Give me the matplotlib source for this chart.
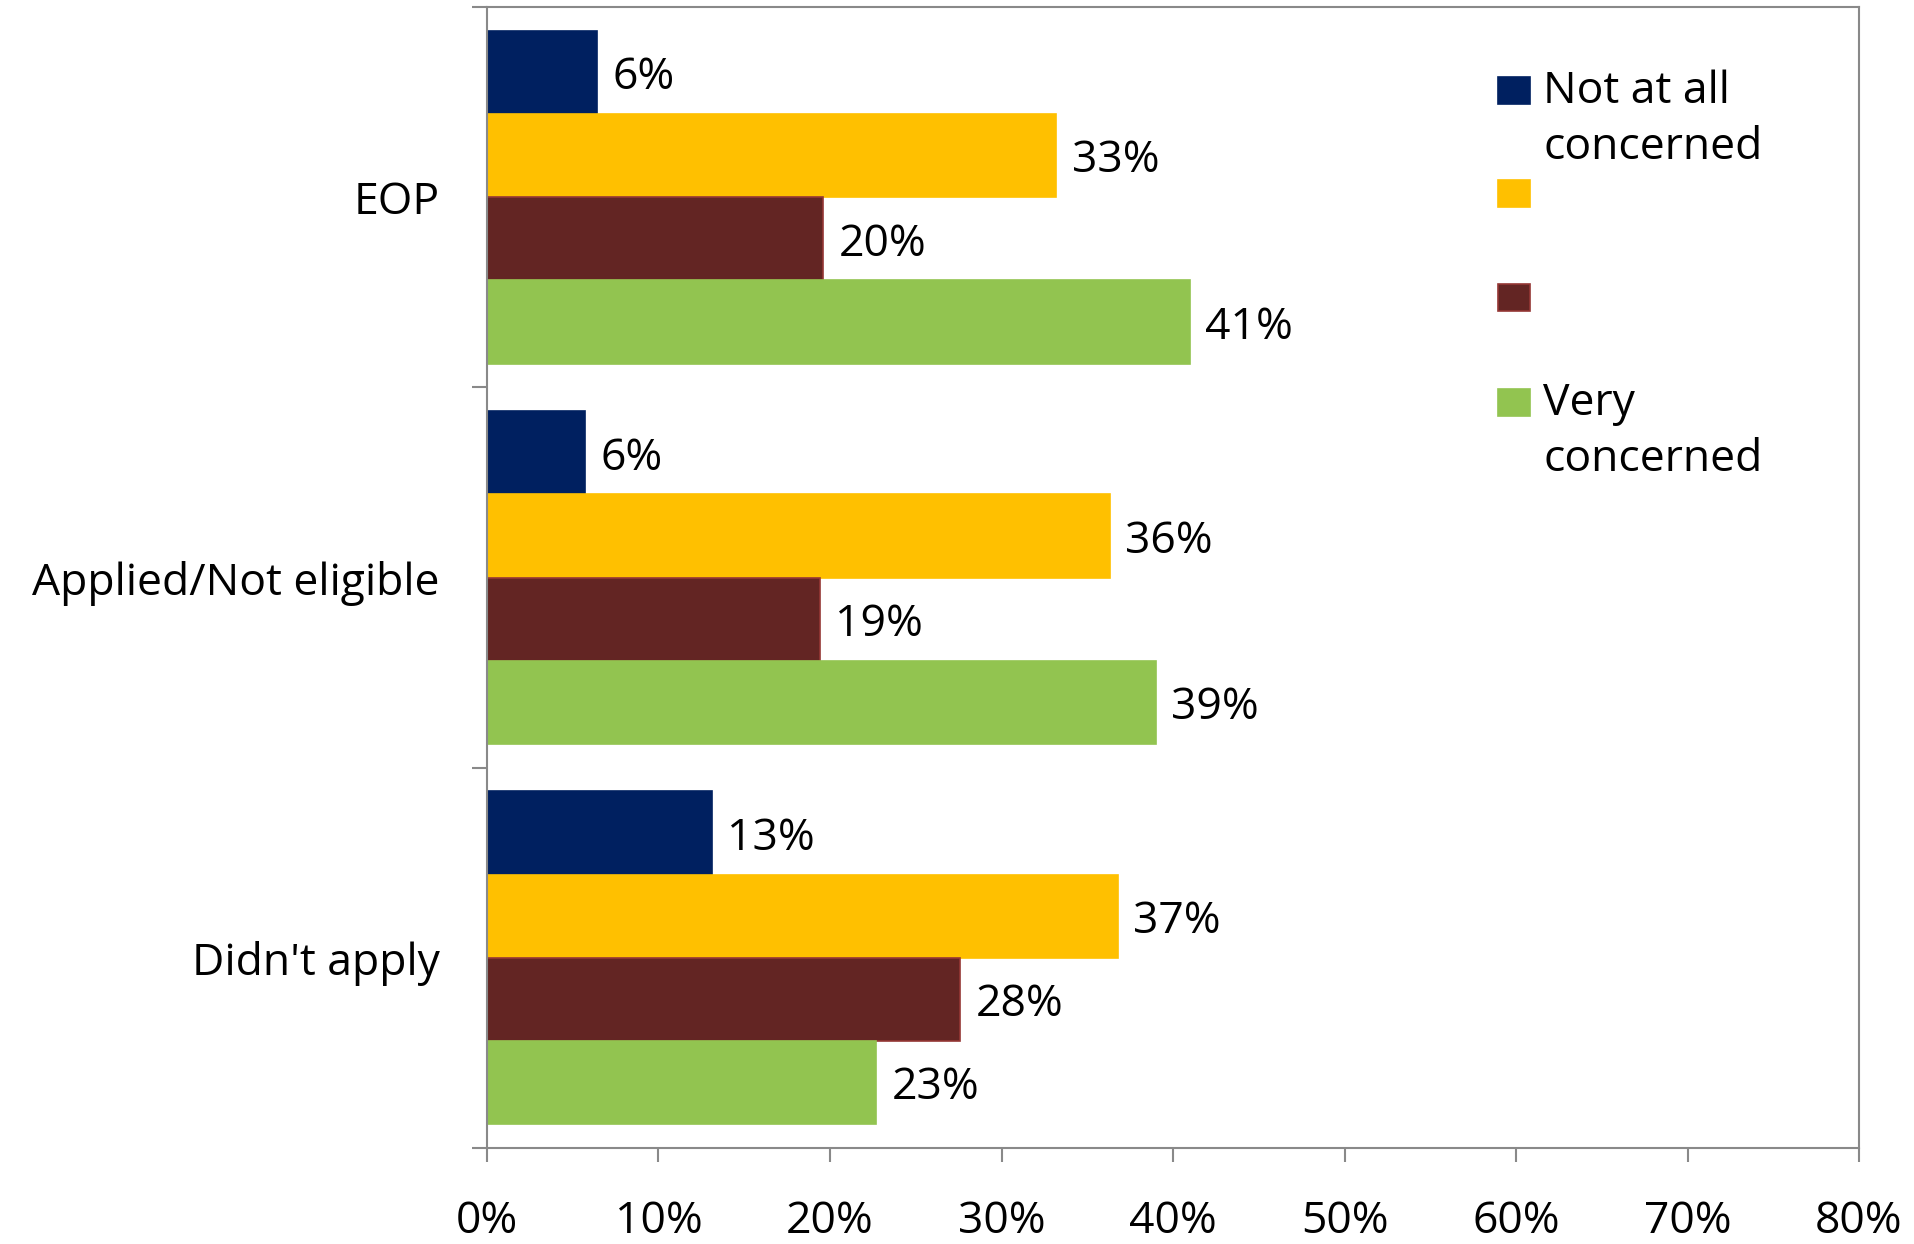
import matplotlib
matplotlib.use("Agg")
import matplotlib.pyplot as plt
import numpy as np
from matplotlib.patches import Rectangle

plt.rcParams['font.family'] = ['Open Sans', 'DejaVu Sans']

categories = ["EOP", "Applied/Not eligible", "Didn't apply"]
series_names = ["Not at all\nconcerned", "", "", "Very\nconcerned"]
not_at_all = [6.4, 5.7, 13.1]
somewhat_not = [33.2, 36.3, 36.8]
somewhat = [19.6, 19.4, 27.6]
very = [41.0, 39.0, 22.7]
series = [not_at_all, somewhat_not, somewhat, very]
colors = ["#002060", "#FFC000", "#632523", "#92C450"]
edges = ["#002060", "#FFC000", "#953735", "#92C450"]
xticks = [0, 10, 20, 30, 40, 50, 60, 70, 80]

FS = 32
fig = plt.figure(figsize=(19.15, 12.44), dpi=100)
ax = fig.add_axes([487/1915, 1 - 1148/1244, (1859-487)/1915, (1148-7)/1244])

n = len(series)
h = 0.875 / n
y = np.arange(len(categories))
for i, (vals, c, ec) in enumerate(zip(series, colors, edges)):
    pos = y + (i - (n - 1) / 2) * h
    bars = ax.barh(pos, vals, height=h, color=c, edgecolor=ec, linewidth=1.2)
    for b, v in zip(bars, vals):
        ax.annotate(f"{round(v):d}%", (v, b.get_y() + b.get_height() / 2),
                    xytext=(11, -4), textcoords="offset points",
                    ha="left", va="center", fontsize=FS)

ax.set_xlim(0, 80)
ax.set_ylim(len(categories) - 0.5, -0.5)
ax.set_xticks(xticks)
ax.set_xticklabels([f"{t}%" for t in xticks], fontsize=FS)
ax.set_yticks(np.arange(len(categories) + 1) - 0.5)
ax.set_yticklabels([])
ax.set_yticks(y, minor=True)
ax.set_yticklabels(categories, minor=True, fontsize=FS)
ax.tick_params(axis="y", which="minor", length=0, pad=34)
ax.tick_params(axis="y", which="major", length=11, width=1.5, color="#898989", direction="out")
ax.tick_params(axis="x", length=10, width=1.5, color="#898989", direction="out", pad=27)
for s in ax.spines.values():
    s.set_color("#898989")
    s.set_linewidth(1.5)

# legend (manual)
W, H = fig.get_size_inches() * fig.dpi
sq_x0, sq_w = 1498, 32
sq_tops = [77, 180, 284, 389]
line_gap = 56
for top, c, ec, name in zip(sq_tops, colors, edges, series_names):
    fig.patches.append(Rectangle((sq_x0 / W, 1 - (top + 27) / H), sq_w / W, 27 / H,
                                 transform=fig.transFigure, facecolor=c, edgecolor=ec,
                                 linewidth=1.2))
    if name:
        for k, line in enumerate(name.split("\n")):
            fig.text(1543 / W, 1 - (top + 26 + k * line_gap) / H, line, fontsize=FS,
                     ha="left", va="baseline", transform=fig.transFigure)

fig.savefig("out.png", dpi=100)
